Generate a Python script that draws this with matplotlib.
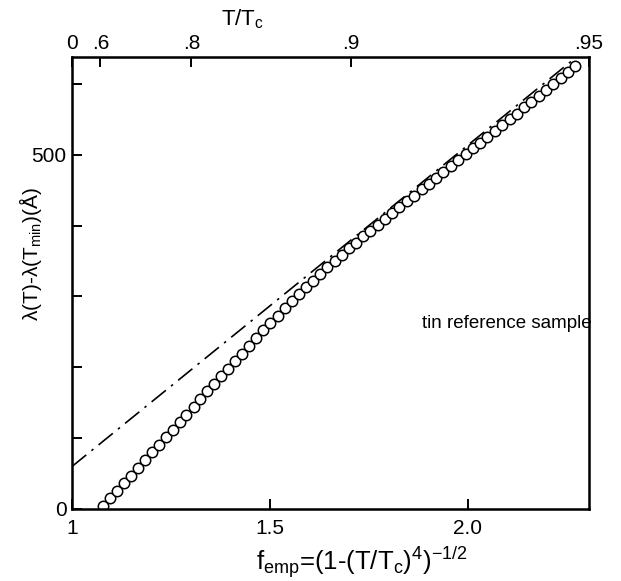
import numpy as np
import matplotlib
matplotlib.use("Agg")
import matplotlib.pyplot as plt

plt.rcParams['font.family'] = ['Liberation Sans', 'DejaVu Sans']
plt.rcParams['mathtext.fontset'] = 'custom'
plt.rcParams['mathtext.rm'] = 'Liberation Sans'
plt.rcParams['mathtext.it'] = 'Liberation Sans'

# measured points: f_emp vs lambda(T)-lambda(Tmin) in Angstrom
f_emp = [1.079, 1.097, 1.114, 1.132, 1.149, 1.167, 1.184, 1.202, 1.219, 1.237, 1.254,
         1.272, 1.289, 1.307, 1.324, 1.342, 1.359, 1.377, 1.394, 1.412, 1.429, 1.447,
         1.465, 1.483, 1.501, 1.519, 1.537, 1.555, 1.573, 1.591, 1.609, 1.627, 1.645,
         1.663, 1.681, 1.699, 1.717, 1.735, 1.753,
         1.772, 1.790, 1.809, 1.827, 1.846, 1.864, 1.883, 1.901, 1.920, 1.938, 1.957,
         1.975, 1.994, 2.012, 2.031, 2.049, 2.068, 2.086, 2.105, 2.123, 2.142, 2.160,
         2.179, 2.197, 2.216, 2.234, 2.253, 2.271]
dlam = [4, 15, 26, 37, 47, 58, 69, 80, 90, 101, 112,
        123, 133, 144, 155, 166, 176, 187, 198, 209, 219, 230,
        241, 252, 262, 273, 283, 293, 303, 313, 322, 332, 341,
        350, 359, 368, 376, 385, 393,
        401, 409, 418, 426, 434, 442, 451, 459, 467, 475, 484,
        492, 501, 509, 517, 525, 534, 542, 550, 558, 567, 575,
        583, 592, 600, 608, 617, 625]

# dash-dot straight line
fit_f = [1.0, 2.27]
fit_y = [60, 636]

# top axis T/Tc
t_ticks = [0, 0.6, 0.8, 0.9, 0.95]
t_labels = ['0', '.6', '.8', '.9', '.95']

xmax = 2.305
fig = plt.figure(figsize=(6.21, 5.81), dpi=100)
ax = fig.add_axes([0.116, 0.124, 0.832, 0.778])

ax.plot(fit_f, fit_y, color='black', lw=1.2, dashes=[11, 4, 1.5, 4])
ax.plot(f_emp, dlam, 'o', mfc='white', mec='black', mew=1.1, ms=7.5, ls='none')

ax.set_xlim(1, xmax)
ax.set_ylim(0, 638)
ax.set_xticks([1, 1.5, 2.0])
ax.set_xticklabels(['1', '1.5', '2.0'])
ax.set_yticks([0, 100, 200, 300, 400, 500, 600])
ax.set_yticklabels(['0', '', '', '', '', '500', ''])
ax.tick_params(direction='in', length=7, width=1.4, labelsize=15, pad=4)
ax.tick_params(axis='x', pad=7)
for s in ax.spines.values():
    s.set_linewidth(1.8)

ax2 = ax.twiny()
ax2.set_xlim(1, xmax)
tpos = [min((1 - t**4) ** -0.5, xmax) for t in t_ticks]
ax2.set_xticks(tpos)
ax2.set_xticklabels(t_labels)
ax2.tick_params(direction='in', length=7, width=1.4, labelsize=15, pad=3)

ax.set_xlabel(r'$\mathrm{f_{emp}}$=(1-(T/T$_\mathrm{c}$)$^4$)$^{-1/2}$', fontsize=18.5)
ax.xaxis.set_label_coords(0.561, -0.078, transform=ax.transAxes)
ax.xaxis.label.set_va('top')
ax.set_ylabel(r'λ(T)-λ(T$_\mathrm{min}$)(Å)', fontsize=15)
ax.yaxis.set_label_coords(-0.055, 0.565)
ax2.set_xlabel(r'T/T$_\mathrm{c}$', fontsize=16, labelpad=4)
ax2.xaxis.set_label_coords(0.33, 1.07)

ax.text(1.885, 262, 'tin reference sample', fontsize=13.5, va='center', ha='left')

fig.savefig('out.png', dpi=100)
